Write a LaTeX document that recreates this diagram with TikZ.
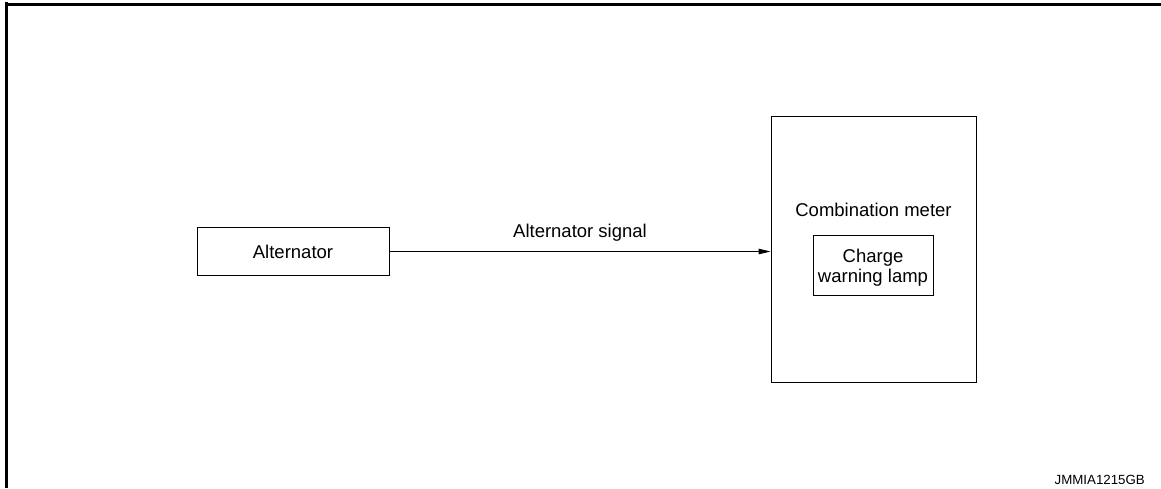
\documentclass[tikz,border=0pt]{standalone}
\usepackage{fontspec}
\setmainfont{Liberation Sans}
\usetikzlibrary{arrows.meta}
\begin{document}
\begin{tikzpicture}[x=1pt,y=-1pt,
  box/.style={draw=black, line width=0.9pt, inner sep=0pt, align=center},
  lbl/.style={font=\fontsize{18.5}{20}\selectfont, inner sep=0pt, align=center},
  signal/.style={draw=black, line width=0.9pt, -{Triangle[length=12pt,width=5.5pt]}}]
  \useasboundingbox (0,0) rectangle (1161,488);
  % page frame: top and left rules
  \draw[line width=3pt] (6,2) -- (6,488);
  \draw[line width=3pt] (4.5,4.5) -- (1161,4.5);
  % blocks
  \node[box, lbl, minimum width=192pt, minimum height=48pt] (alt) at (293,251.5) {Alternator};
  \node[box, minimum width=205pt, minimum height=266pt] (meter) at (873.5,249) {};
  \node[lbl] (metername) at (873.5,210) {Combination meter};
  \node[box, minimum width=120pt, minimum height=60pt] (lamp) at (873,265) {};
  \node[lbl] (lamptext) at (lamp.center) [yshift=-2.5pt] {Charge\\warning lamp};
  % connection
  \draw[signal] (alt.east) -- node[lbl, above=10pt] (sig) {Alternator signal} (alt.east -| meter.west);
  % drawing code
  \node[anchor=east, font=\fontsize{13.3}{15}\selectfont, inner sep=0pt] (code) at (1145,480) {JMMIA1215GB};
\end{tikzpicture}
\end{document}
